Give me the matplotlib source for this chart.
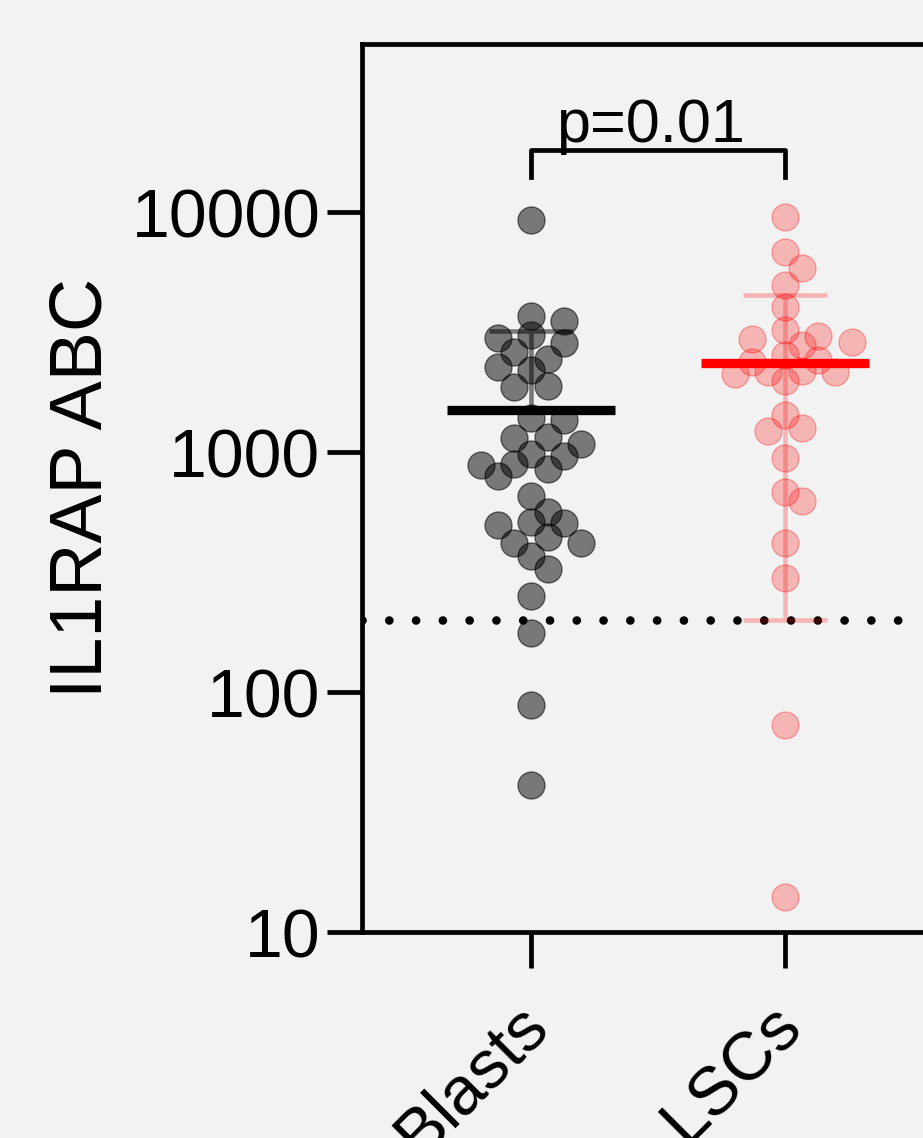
import numpy as np
import matplotlib.pyplot as plt
from matplotlib.transforms import ScaledTranslation

plt.rcParams['font.family'] = ['Liberation Sans', 'DejaVu Sans']

# data (IL1RAP antibodies bound per cell)
groups = ['Blasts', 'LSCs']
blasts = [9260, 3700, 3525, 3083, 2994, 2838, 2618, 2441, 2254, 2197,
          1889, 1871, 1381, 1359, 1151, 1140, 1080, 981, 965, 891,
          885, 849, 792, 654, 564, 512, 506, 497, 441, 418,
          418, 367, 327, 251, 176, 88, 41]
lscs = [9560, 6835, 5823, 4977, 4007, 3221, 3054, 2958, 2863, 2793,
        2543, 2417, 2378, 2168, 2161, 2161, 2113, 1971, 1429, 1255,
        1228, 942, 684, 627, 418, 299, 73, 14]
means = [1500, 2350]
sds = [1700, 2150]
threshold = 200
p_label = 'p=0.01'

bg = '#f2f2f2'
dot_face = [(0, 0, 0, 0.5), (1, 0, 0, 0.25)]
dot_edge = [(0, 0, 0, 0.55), (1, 0, 0, 0.3)]
err_col = [(0, 0, 0, 0.5), (1, 0, 0, 0.25)]
mean_col = ['black', 'red']
LW = 3.4

fig = plt.figure(figsize=(9.23, 11.38), dpi=100, facecolor=bg)
ax = fig.add_axes([362 / 923, 206 / 1138, 677 / 923, 888 / 1138])
ax.set_facecolor(bg)
ax.set_yscale('log')
ax.set_xlim(-0.665, 2.0)
ax.set_ylim(10, 10 ** 4.7)


def swarm(vals, x0, step=16.7, mind=19.0):
    # simple beeswarm in pixel space
    pts = np.column_stack([np.full(len(vals), x0), vals])
    ys = ax.transData.transform(pts)[:, 1]
    ppu = ax.transData.transform((1, 1))[0] - ax.transData.transform((0, 1))[0]
    cands = [0.0]
    for k in range(1, 20):
        cands += [k * step, -k * step]
    placed = []
    offs = np.zeros(len(vals))
    for i in np.argsort(-ys):
        for c in cands:
            if all((c - px) ** 2 + (ys[i] - py) ** 2 >= mind ** 2 for px, py in placed):
                break
        placed.append((c, ys[i]))
        offs[i] = c / ppu
    return x0 + offs


ax.axhline(threshold, color='black', lw=6.2, linestyle=(0, (0.01, 3.1)),
           dash_capstyle='round', zorder=1)

for i, vals in enumerate([blasts, lscs]):
    xs = swarm(vals, i)
    ax.scatter(xs, vals, s=19.4 ** 2, facecolor=dot_face[i], edgecolor=dot_edge[i],
               linewidth=1.0, zorder=2)
    m, sd = means[i], sds[i]
    hi, lo = m + sd, m - sd
    cw = 0.165
    if lo > 0:
        ex = [i, i, np.nan, i - cw, i + cw, np.nan, i - cw, i + cw]
        ey = [lo, hi, np.nan, hi, hi, np.nan, lo, lo]
    else:
        ex = [i, i, np.nan, i - cw, i + cw]
        ey = [m, hi, np.nan, hi, hi]
    ax.plot(ex, ey, color=err_col[i], lw=3.3, solid_capstyle='butt', zorder=3)
    ax.plot([i - 0.331, i + 0.331], [m, m], color=mean_col[i], lw=6.7,
            solid_capstyle='butt', zorder=4)

# significance bracket
ax.plot([0, 0, 1, 1], [13990, 18130, 18130, 13990], color='black', lw=LW,
        clip_on=False, zorder=5)
ax.text(0.47, 19580, p_label, ha='center', va='baseline', fontsize=44)

ax.set_yticks([10, 100, 1000, 10000])
ax.set_yticklabels(['10', '100', '1000', '10000'])
ax.yaxis.set_minor_locator(plt.NullLocator())
ax.set_xticks([0, 1])
ax.set_xticklabels([])
lab_tr = ax.get_xaxis_transform() + ScaledTranslation(-0.16, -0.60, fig.dpi_scale_trans)
for i, name in enumerate(groups):
    ax.text(i, 0, name, transform=lab_tr, rotation=45, ha='right', va='top',
            rotation_mode='anchor', fontsize=49, clip_on=False)
ax.tick_params(axis='y', length=25, width=LW, labelsize=49, pad=5)
ax.tick_params(axis='x', length=26, width=LW)
for s in ax.spines.values():
    s.set_linewidth(LW)

ax.set_ylabel('IL1RAP ABC', fontsize=53)
ax.yaxis.set_label_coords(-0.362, 0.5)

fig.savefig('out.png', dpi=100, facecolor=bg)
